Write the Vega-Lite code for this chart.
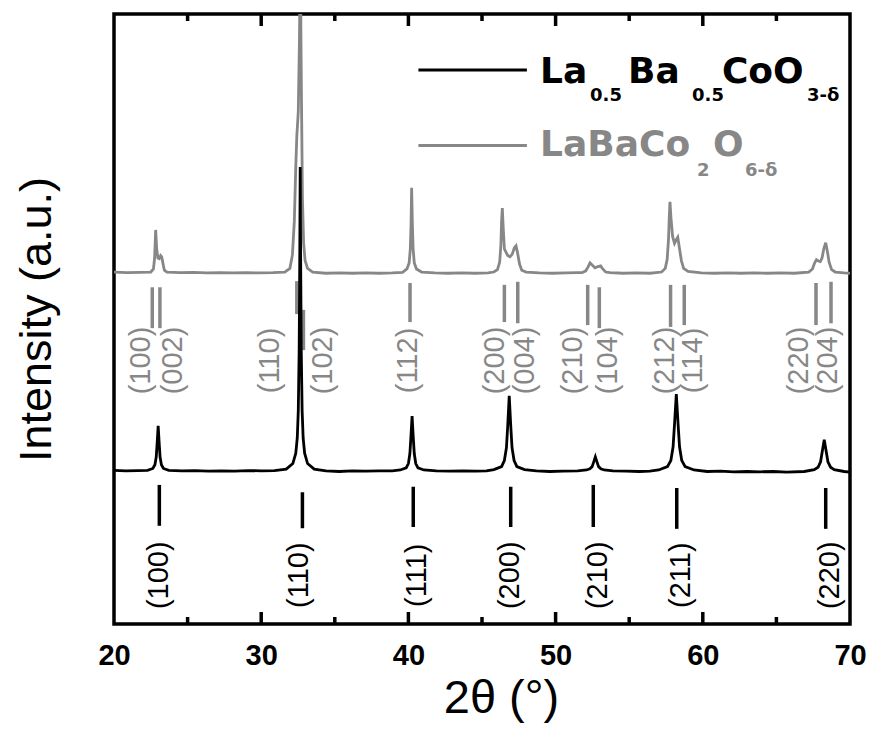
{
  "$schema": "https://vega.github.io/schema/vega-lite/v6.json",
  "width": 736,
  "height": 610,
  "autosize": {"type": "none"},
  "padding": {"left": 114, "top": 14, "right": 23, "bottom": 109},
  "background": "white",
  "config": {"view": {"stroke": "black", "strokeWidth": 3.5}, "axis": {"grid": false}},
  "datasets": {
    "black": [
      {"tt": 20.0, "I": 25.2}, {"tt": 20.8, "I": 25.1}, {"tt": 21.6, "I": 25.15}, {"tt": 22.28, "I": 25.2},
      {"tt": 22.64, "I": 25.5}, {"tt": 22.78, "I": 26.1}, {"tt": 22.87, "I": 27.4}, {"tt": 22.93, "I": 29.6},
      {"tt": 23.0, "I": 32.5}, {"tt": 23.07, "I": 29.6}, {"tt": 23.13, "I": 27.4}, {"tt": 23.22, "I": 26.1},
      {"tt": 23.36, "I": 25.5}, {"tt": 23.72, "I": 25.2}, {"tt": 24.6, "I": 25.1}, {"tt": 25.5, "I": 25.15},
      {"tt": 26.4, "I": 25.05}, {"tt": 27.3, "I": 25.1}, {"tt": 28.2, "I": 25.05}, {"tt": 29.1, "I": 25.15},
      {"tt": 30.0, "I": 25.1}, {"tt": 30.9, "I": 25.15}, {"tt": 31.7, "I": 25.4}, {"tt": 32.15, "I": 26.3},
      {"tt": 32.35, "I": 28.0}, {"tt": 32.45, "I": 30.5}, {"tt": 32.52, "I": 35.0}, {"tt": 32.58, "I": 45.0},
      {"tt": 32.62, "I": 60.0}, {"tt": 32.65, "I": 74.9}, {"tt": 32.68, "I": 60.0}, {"tt": 32.72, "I": 45.0},
      {"tt": 32.78, "I": 35.0}, {"tt": 32.85, "I": 30.5}, {"tt": 32.95, "I": 28.0}, {"tt": 33.15, "I": 26.3},
      {"tt": 33.6, "I": 25.4}, {"tt": 34.4, "I": 25.1}, {"tt": 35.3, "I": 25.0}, {"tt": 36.2, "I": 25.1},
      {"tt": 37.1, "I": 25.05}, {"tt": 38.0, "I": 25.1}, {"tt": 38.9, "I": 25.1}, {"tt": 39.45, "I": 25.25},
      {"tt": 39.85, "I": 25.6}, {"tt": 40.0, "I": 26.3}, {"tt": 40.1, "I": 27.9}, {"tt": 40.17, "I": 30.6},
      {"tt": 40.25, "I": 34.1}, {"tt": 40.33, "I": 30.6}, {"tt": 40.4, "I": 27.9}, {"tt": 40.5, "I": 26.3},
      {"tt": 40.65, "I": 25.6}, {"tt": 41.05, "I": 25.25}, {"tt": 41.9, "I": 25.1}, {"tt": 42.8, "I": 25.05},
      {"tt": 43.7, "I": 25.1}, {"tt": 44.6, "I": 25.05}, {"tt": 45.3, "I": 25.1}, {"tt": 45.81, "I": 25.3},
      {"tt": 46.33, "I": 25.8}, {"tt": 46.52, "I": 26.8}, {"tt": 46.66, "I": 28.9}, {"tt": 46.75, "I": 32.6},
      {"tt": 46.85, "I": 37.4}, {"tt": 46.95, "I": 32.6}, {"tt": 47.04, "I": 28.9}, {"tt": 47.18, "I": 26.8},
      {"tt": 47.37, "I": 25.8}, {"tt": 47.89, "I": 25.3}, {"tt": 48.7, "I": 25.1}, {"tt": 49.6, "I": 25.0},
      {"tt": 50.5, "I": 25.05}, {"tt": 51.5, "I": 25.1}, {"tt": 52.1, "I": 25.25}, {"tt": 52.33, "I": 25.45},
      {"tt": 52.48, "I": 25.8}, {"tt": 52.58, "I": 26.5}, {"tt": 52.7, "I": 27.4}, {"tt": 52.82, "I": 26.5},
      {"tt": 52.92, "I": 25.8}, {"tt": 53.07, "I": 25.45}, {"tt": 53.3, "I": 25.25}, {"tt": 53.9, "I": 25.1},
      {"tt": 54.8, "I": 25.05}, {"tt": 55.7, "I": 25.0}, {"tt": 56.4, "I": 25.05}, {"tt": 57.0, "I": 25.25},
      {"tt": 57.6, "I": 25.8}, {"tt": 57.83, "I": 26.8}, {"tt": 57.98, "I": 29.0}, {"tt": 58.08, "I": 32.8},
      {"tt": 58.2, "I": 37.7}, {"tt": 58.32, "I": 32.8}, {"tt": 58.42, "I": 29.0}, {"tt": 58.57, "I": 26.8},
      {"tt": 58.8, "I": 25.8}, {"tt": 59.4, "I": 25.25}, {"tt": 60.3, "I": 25.0}, {"tt": 61.2, "I": 25.05},
      {"tt": 62.1, "I": 24.95}, {"tt": 63.0, "I": 25.0}, {"tt": 63.9, "I": 24.95}, {"tt": 64.8, "I": 25.0},
      {"tt": 65.7, "I": 24.9}, {"tt": 66.89, "I": 25.0}, {"tt": 67.57, "I": 25.3}, {"tt": 67.83, "I": 25.7},
      {"tt": 68.0, "I": 26.6}, {"tt": 68.11, "I": 28.2}, {"tt": 68.25, "I": 30.2}, {"tt": 68.39, "I": 28.2},
      {"tt": 68.5, "I": 26.6}, {"tt": 68.68, "I": 25.7}, {"tt": 68.93, "I": 25.3}, {"tt": 69.6, "I": 25.0},
      {"tt": 70.0, "I": 24.9}
    ],
    "gray": [
      {"tt": 20.0, "I": 57.7}, {"tt": 20.9, "I": 57.6}, {"tt": 21.8, "I": 57.65}, {"tt": 22.5, "I": 57.7},
      {"tt": 22.68, "I": 58.2}, {"tt": 22.76, "I": 60.0}, {"tt": 22.83, "I": 64.6}, {"tt": 22.9, "I": 61.5},
      {"tt": 22.98, "I": 60.0}, {"tt": 23.07, "I": 59.9}, {"tt": 23.17, "I": 60.4}, {"tt": 23.24, "I": 60.2},
      {"tt": 23.32, "I": 59.2}, {"tt": 23.42, "I": 58.0}, {"tt": 23.6, "I": 57.7}, {"tt": 24.5, "I": 57.6},
      {"tt": 25.4, "I": 57.65}, {"tt": 26.3, "I": 57.55}, {"tt": 27.2, "I": 57.6}, {"tt": 28.1, "I": 57.55},
      {"tt": 29.0, "I": 57.6}, {"tt": 29.9, "I": 57.55}, {"tt": 30.8, "I": 57.6}, {"tt": 31.6, "I": 57.7},
      {"tt": 31.95, "I": 58.3}, {"tt": 32.12, "I": 60.5}, {"tt": 32.25, "I": 66.0}, {"tt": 32.35, "I": 75.0},
      {"tt": 32.42, "I": 80.0}, {"tt": 32.52, "I": 84.0}, {"tt": 32.6, "I": 96.0}, {"tt": 32.66, "I": 110.0},
      {"tt": 32.7, "I": 96.0}, {"tt": 32.74, "I": 85.0}, {"tt": 32.8, "I": 70.0}, {"tt": 32.88, "I": 62.5},
      {"tt": 32.98, "I": 59.6}, {"tt": 33.15, "I": 58.3}, {"tt": 33.5, "I": 57.7}, {"tt": 34.4, "I": 57.5},
      {"tt": 35.3, "I": 57.55}, {"tt": 36.2, "I": 57.5}, {"tt": 37.1, "I": 57.55}, {"tt": 38.0, "I": 57.5},
      {"tt": 38.9, "I": 57.55}, {"tt": 39.6, "I": 57.65}, {"tt": 39.9, "I": 58.2}, {"tt": 40.05, "I": 59.2},
      {"tt": 40.13, "I": 61.5}, {"tt": 40.18, "I": 65.5}, {"tt": 40.22, "I": 71.5}, {"tt": 40.27, "I": 65.5},
      {"tt": 40.32, "I": 61.5}, {"tt": 40.4, "I": 59.2}, {"tt": 40.55, "I": 58.2}, {"tt": 40.9, "I": 57.7},
      {"tt": 41.8, "I": 57.55}, {"tt": 42.7, "I": 57.5}, {"tt": 43.6, "I": 57.55}, {"tt": 44.5, "I": 57.5},
      {"tt": 45.4, "I": 57.55}, {"tt": 45.8, "I": 57.7}, {"tt": 46.05, "I": 58.1}, {"tt": 46.2, "I": 59.3},
      {"tt": 46.28, "I": 62.0}, {"tt": 46.33, "I": 66.0}, {"tt": 46.38, "I": 68.2}, {"tt": 46.44, "I": 65.0},
      {"tt": 46.52, "I": 61.5}, {"tt": 46.62, "I": 61.0}, {"tt": 46.75, "I": 60.4}, {"tt": 46.9, "I": 60.2},
      {"tt": 47.05, "I": 60.6}, {"tt": 47.2, "I": 61.7}, {"tt": 47.31, "I": 62.0}, {"tt": 47.42, "I": 60.8},
      {"tt": 47.55, "I": 59.0}, {"tt": 47.7, "I": 58.0}, {"tt": 48.0, "I": 57.7}, {"tt": 48.9, "I": 57.55},
      {"tt": 49.8, "I": 57.5}, {"tt": 50.7, "I": 57.55}, {"tt": 51.5, "I": 57.6}, {"tt": 51.8, "I": 57.6},
      {"tt": 52.05, "I": 57.9}, {"tt": 52.2, "I": 58.5}, {"tt": 52.34, "I": 59.2}, {"tt": 52.5, "I": 58.8},
      {"tt": 52.68, "I": 58.4}, {"tt": 52.88, "I": 58.6}, {"tt": 53.06, "I": 58.7}, {"tt": 53.2, "I": 58.2},
      {"tt": 53.4, "I": 57.7}, {"tt": 53.7, "I": 57.6}, {"tt": 54.6, "I": 57.5}, {"tt": 55.5, "I": 57.55},
      {"tt": 56.4, "I": 57.5}, {"tt": 57.2, "I": 57.7}, {"tt": 57.45, "I": 58.3}, {"tt": 57.58, "I": 59.8},
      {"tt": 57.67, "I": 63.0}, {"tt": 57.72, "I": 66.5}, {"tt": 57.77, "I": 69.2}, {"tt": 57.84, "I": 66.5},
      {"tt": 57.95, "I": 63.5}, {"tt": 58.08, "I": 62.4}, {"tt": 58.2, "I": 63.0}, {"tt": 58.3, "I": 63.4},
      {"tt": 58.42, "I": 61.5}, {"tt": 58.55, "I": 59.5}, {"tt": 58.7, "I": 58.3}, {"tt": 59.0, "I": 57.8},
      {"tt": 59.9, "I": 57.55}, {"tt": 60.8, "I": 57.5}, {"tt": 61.7, "I": 57.55}, {"tt": 62.6, "I": 57.5},
      {"tt": 63.5, "I": 57.55}, {"tt": 64.4, "I": 57.5}, {"tt": 65.3, "I": 57.55}, {"tt": 66.2, "I": 57.5},
      {"tt": 67.2, "I": 57.7}, {"tt": 67.45, "I": 58.2}, {"tt": 67.6, "I": 59.2}, {"tt": 67.72, "I": 59.7},
      {"tt": 67.85, "I": 59.5}, {"tt": 67.98, "I": 59.4}, {"tt": 68.1, "I": 60.0}, {"tt": 68.22, "I": 61.5},
      {"tt": 68.35, "I": 62.5}, {"tt": 68.47, "I": 61.0}, {"tt": 68.58, "I": 59.3}, {"tt": 68.75, "I": 58.1},
      {"tt": 69.0, "I": 57.7}, {"tt": 69.6, "I": 57.55}, {"tt": 70.0, "I": 57.5}
    ],
    "grayMarks": [
      {"tt": 22.6, "I": 55.2, "I2": 48.5}, {"tt": 23.12, "I": 55.2, "I2": 48.5},
      {"tt": 32.42, "I": 56.2, "I2": 50.8}, {"tt": 32.87, "I": 51.5, "I2": 44.9},
      {"tt": 40.11, "I": 55.9, "I2": 49.5},
      {"tt": 46.52, "I": 55.6, "I2": 49.5}, {"tt": 47.43, "I": 56.1, "I2": 49.3},
      {"tt": 52.18, "I": 55.6, "I2": 49.0}, {"tt": 52.97, "I": 55.2, "I2": 48.5},
      {"tt": 57.81, "I": 55.6, "I2": 48.7}, {"tt": 58.74, "I": 55.6, "I2": 49.0},
      {"tt": 67.69, "I": 55.9, "I2": 49.0}, {"tt": 68.71, "I": 56.1, "I2": 49.3}
    ],
    "blackMarks": [
      {"tt": 23.08, "I": 22.8, "I2": 16.1}, {"tt": 32.8, "I": 21.6, "I2": 15.7},
      {"tt": 40.33, "I": 22.5, "I2": 15.9}, {"tt": 46.95, "I": 22.5, "I2": 15.9},
      {"tt": 52.56, "I": 22.8, "I2": 15.9}, {"tt": 58.23, "I": 22.3, "I2": 15.6},
      {"tt": 68.35, "I": 22.3, "I2": 15.6}
    ],
    "grayHkl": [
      {"tt": 21.82, "I": 43.2, "hkl": "(100)"}, {"tt": 24.03, "I": 43.2, "hkl": "(002)"},
      {"tt": 30.6, "I": 43.2, "hkl": "(110)"}, {"tt": 34.22, "I": 43.2, "hkl": "(102)"},
      {"tt": 40.0, "I": 43.2, "hkl": "(112)"}, {"tt": 45.9, "I": 43.2, "hkl": "(200)"},
      {"tt": 47.92, "I": 43.2, "hkl": "(004)"}, {"tt": 51.15, "I": 43.2, "hkl": "(210)"},
      {"tt": 53.57, "I": 43.2, "hkl": "(104)"}, {"tt": 57.43, "I": 43.2, "hkl": "(212)"},
      {"tt": 59.35, "I": 43.2, "hkl": "(114)"}, {"tt": 66.54, "I": 43.2, "hkl": "(220)"},
      {"tt": 68.53, "I": 43.2, "hkl": "(204)"}
    ],
    "blackHkl": [
      {"tt": 23.07, "I": 8.0, "hkl": "(100)"}, {"tt": 32.54, "I": 8.0, "hkl": "(110)"},
      {"tt": 40.56, "I": 8.0, "hkl": "(111)"}, {"tt": 46.9, "I": 8.0, "hkl": "(200)"},
      {"tt": 52.9, "I": 8.0, "hkl": "(210)"}, {"tt": 58.54, "I": 8.0, "hkl": "(211)"},
      {"tt": 68.62, "I": 8.0, "hkl": "(220)"}
    ],
    "majorTicks": [
      {"tt": 30, "edge": 0}, {"tt": 40, "edge": 0}, {"tt": 50, "edge": 0}, {"tt": 60, "edge": 0},
      {"tt": 30, "edge": 100}, {"tt": 40, "edge": 100}, {"tt": 50, "edge": 100}, {"tt": 60, "edge": 100}
    ],
    "minorTicks": [
      {"tt": 25, "edge": 0}, {"tt": 35, "edge": 0}, {"tt": 45, "edge": 0}, {"tt": 55, "edge": 0}, {"tt": 65, "edge": 0},
      {"tt": 25, "edge": 100}, {"tt": 35, "edge": 100}, {"tt": 45, "edge": 100}, {"tt": 55, "edge": 100}, {"tt": 65, "edge": 100}
    ],
    "legendLines": [
      {"tt": 40.68, "tt2": 48.05, "I": 90.82, "s": "La0.5Ba0.5CoO3-δ"},
      {"tt": 40.68, "tt2": 48.05, "I": 78.44, "s": "LaBaCo2O6-δ"}
    ],
    "legendMain": [
      {"tt": 48.94, "I": 88.69, "s": "La0.5Ba0.5CoO3-δ", "txt": "La"},
      {"tt": 54.92, "I": 88.69, "s": "La0.5Ba0.5CoO3-δ", "txt": "Ba"},
      {"tt": 61.3, "I": 88.69, "s": "La0.5Ba0.5CoO3-δ", "txt": "CoO"},
      {"tt": 48.94, "I": 76.7, "s": "LaBaCo2O6-δ", "txt": "LaBaCo"},
      {"tt": 60.69, "I": 76.7, "s": "LaBaCo2O6-δ", "txt": "O"}
    ],
    "legendSub": [
      {"tt": 52.34, "I": 85.75, "s": "La0.5Ba0.5CoO3-δ", "txt": "0.5"},
      {"tt": 59.27, "I": 85.75, "s": "La0.5Ba0.5CoO3-δ", "txt": "0.5"},
      {"tt": 67.08, "I": 85.75, "s": "La0.5Ba0.5CoO3-δ", "txt": "3-δ"},
      {"tt": 59.61, "I": 73.4, "s": "LaBaCo2O6-δ", "txt": "2"},
      {"tt": 62.87, "I": 73.4, "s": "LaBaCo2O6-δ", "txt": "6-δ"}
    ]
  },
  "layer": [
    {
      "data": {"name": "grayMarks"},
      "mark": {"type": "rule", "color": "#878787", "strokeWidth": 3.5},
      "encoding": {
        "x": {"field": "tt", "type": "quantitative", "scale": {"domain": [20, 70], "nice": false, "zero": false},
          "axis": {"orient": "bottom", "values": [20, 30, 40, 50, 60, 70], "ticks": false, "domain": false,
            "labelFont": "Liberation Sans", "labelFontSize": 29, "labelFontWeight": "bold", "labelColor": "black",
            "labelPadding": 17, "labelFlush": false, "labelOverlap": false,
            "title": "2θ (°)", "titleFont": "Liberation Sans", "titleFontSize": 47, "titleFontWeight": "normal",
            "titleColor": "black", "titlePadding": 5, "titleX": 387, "titleAnchor": "middle"}},
        "y": {"field": "I", "type": "quantitative", "scale": {"domain": [0, 100], "nice": false, "zero": false},
          "axis": {"title": "Intensity (a.u.)", "labels": false, "ticks": false, "domain": false,
            "titleFont": "Liberation Sans", "titleFontSize": 45, "titleFontWeight": "normal", "titleColor": "black",
            "titlePadding": 55}},
        "y2": {"field": "I2"}
      }
    },
    {
      "data": {"name": "gray"},
      "mark": {"type": "line", "color": "#878787", "strokeWidth": 2.8, "clip": true},
      "encoding": {
        "x": {"field": "tt", "type": "quantitative"},
        "y": {"field": "I", "type": "quantitative"}
      }
    },
    {
      "data": {"name": "black"},
      "mark": {"type": "line", "color": "black", "strokeWidth": 2.8},
      "encoding": {
        "x": {"field": "tt", "type": "quantitative"},
        "y": {"field": "I", "type": "quantitative"}
      }
    },
    {
      "data": {"name": "blackMarks"},
      "mark": {"type": "rule", "color": "black", "strokeWidth": 3.5},
      "encoding": {
        "x": {"field": "tt", "type": "quantitative"},
        "y": {"field": "I", "type": "quantitative"},
        "y2": {"field": "I2"}
      }
    },
    {
      "data": {"name": "majorTicks"},
      "mark": {"type": "tick", "orient": "vertical", "size": 24, "thickness": 3.5, "color": "black", "opacity": 1, "clip": true},
      "encoding": {
        "x": {"field": "tt", "type": "quantitative"},
        "y": {"field": "edge", "type": "quantitative"}
      }
    },
    {
      "data": {"name": "minorTicks"},
      "mark": {"type": "tick", "orient": "vertical", "size": 14, "thickness": 3.5, "color": "black", "opacity": 1, "clip": true},
      "encoding": {
        "x": {"field": "tt", "type": "quantitative"},
        "y": {"field": "edge", "type": "quantitative"}
      }
    },
    {
      "data": {"name": "grayHkl"},
      "mark": {"type": "text", "color": "#878787", "font": "Liberation Sans", "fontSize": 29, "angle": 270,
        "align": "center", "baseline": "middle"},
      "encoding": {
        "x": {"field": "tt", "type": "quantitative"},
        "y": {"field": "I", "type": "quantitative"},
        "text": {"field": "hkl"}
      }
    },
    {
      "data": {"name": "blackHkl"},
      "mark": {"type": "text", "color": "black", "font": "Liberation Sans", "fontSize": 29, "angle": 270,
        "align": "center", "baseline": "middle"},
      "encoding": {
        "x": {"field": "tt", "type": "quantitative"},
        "y": {"field": "I", "type": "quantitative"},
        "text": {"field": "hkl"}
      }
    },
    {
      "data": {"name": "legendLines"},
      "mark": {"type": "rule", "strokeWidth": 3},
      "encoding": {
        "x": {"field": "tt", "type": "quantitative"},
        "x2": {"field": "tt2"},
        "y": {"field": "I", "type": "quantitative"},
        "color": {"field": "s", "type": "nominal", "legend": null,
          "scale": {"domain": ["La0.5Ba0.5CoO3-δ", "LaBaCo2O6-δ"], "range": ["black", "#878787"]}}
      }
    },
    {
      "data": {"name": "legendMain"},
      "mark": {"type": "text", "font": "DejaVu Sans", "fontWeight": "bold", "fontSize": 36, "align": "left",
        "baseline": "alphabetic"},
      "encoding": {
        "x": {"field": "tt", "type": "quantitative"},
        "y": {"field": "I", "type": "quantitative"},
        "text": {"field": "txt"},
        "color": {"field": "s", "type": "nominal", "legend": null}
      }
    },
    {
      "data": {"name": "legendSub"},
      "mark": {"type": "text", "font": "DejaVu Sans", "fontWeight": "bold", "fontSize": 18, "align": "left",
        "baseline": "alphabetic"},
      "encoding": {
        "x": {"field": "tt", "type": "quantitative"},
        "y": {"field": "I", "type": "quantitative"},
        "text": {"field": "txt"},
        "color": {"field": "s", "type": "nominal", "legend": null}
      }
    }
  ]
}
